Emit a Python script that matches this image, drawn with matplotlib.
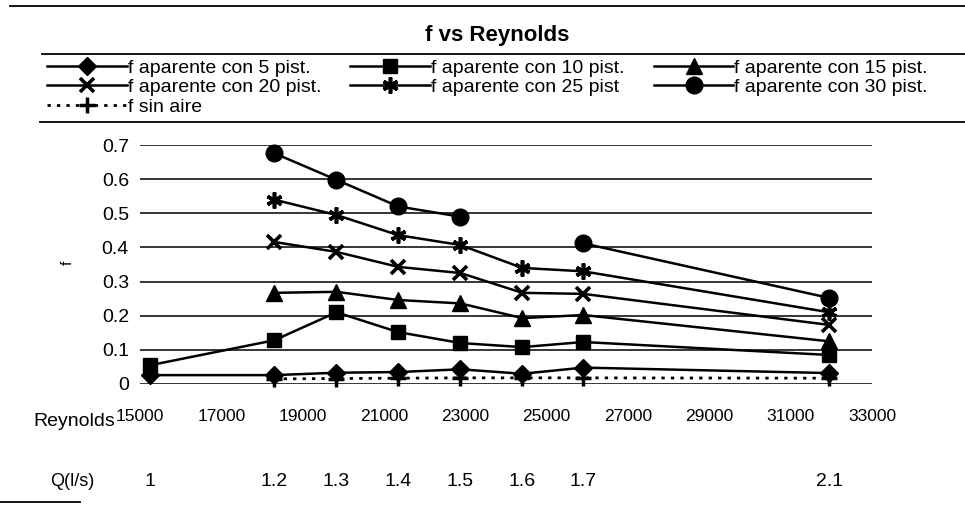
import numpy as np
import matplotlib as mpl
mpl.use('Agg')
import matplotlib.pyplot as plt
from matplotlib.lines import Line2D

plt.rcParams['font.family'] = ['Liberation Sans', 'DejaVu Sans']

# data
reynolds = [15250, 18300, 19830, 21350, 22880, 24400, 25900, 31950]
q_labels = ['1', '1.2', '1.3', '1.4', '1.5', '1.6', '1.7', '2.1']
nan = np.nan
f_5 = [0.026, 0.026, 0.033, 0.035, 0.043, 0.030, 0.048, 0.032]
f_10 = [0.055, 0.128, 0.210, 0.152, 0.120, 0.108, 0.123, 0.085]
f_15 = [nan, 0.267, 0.270, 0.246, 0.236, 0.193, 0.202, 0.125]
f_20 = [nan, 0.416, 0.387, 0.343, 0.325, 0.267, 0.264, 0.173]
f_25 = [nan, 0.540, 0.495, 0.436, 0.407, 0.340, 0.330, 0.210]
f_30 = [nan, 0.676, 0.598, 0.520, 0.490, nan, 0.412, 0.252]
f_sin = [nan, 0.015, 0.016, 0.017, 0.018, 0.018, 0.018, 0.017]
x_ticks = list(range(15000, 33001, 2000))
y_ticks = [0, 0.1, 0.2, 0.3, 0.4, 0.5, 0.6, 0.7]

W, H = 965, 527
fig = plt.figure(figsize=(W / 100, H / 100), dpi=100)
ax = fig.add_axes([140 / W, (H - 384) / H, 732 / W, 239 / H])

lw = 1.8
st = dict(color='black', lw=lw, clip_on=False)
h5, = ax.plot(reynolds, f_5, marker='D', ms=9, label='f aparente con 5 pist.', **st)
h10, = ax.plot(reynolds, f_10, marker='s', ms=10.5, label='f aparente con 10 pist.', **st)
h15, = ax.plot(reynolds, f_15, marker='^', ms=12, label='f aparente con 15 pist.', **st)
h20, = ax.plot(reynolds, f_20, marker='x', ms=10.5, mew=2.6, label='f aparente con 20 pist.', **st)
h25, = ax.plot(reynolds, f_25, marker=(6, 2, 0), ms=11.5, mew=2.6, label='f aparente con 25 pist', **st)
h30, = ax.plot(reynolds, f_30, marker='o', ms=12, label='f aparente con 30 pist.', **st)
hs, = ax.plot(reynolds, f_sin, marker='+', ms=11, mew=2.5, color='black', lw=2,
              ls=(0, (1.2, 2.2)), clip_on=False, label='f sin aire')

ax.set_xlim(15000, 33000)
ax.set_ylim(0, 0.7)
ax.set_xticks(x_ticks)
ax.set_xticklabels([str(v) for v in x_ticks])
ax.set_yticks(y_ticks)
ax.set_yticklabels(['0'] + [f'{v:.1f}' for v in y_ticks[1:]])
ax.tick_params(axis='both', length=0)
ax.tick_params(axis='x', pad=18, labelsize=12.5)
ax.tick_params(axis='y', pad=8, labelsize=14)
for s in ax.spines.values():
    s.set_visible(False)
ax.yaxis.grid(True, color='black', lw=1.1)
ax.set_axisbelow(True)

# Q row under the Reynolds labels
for re, q in zip(reynolds, q_labels):
    ax.text(re, -0.41, q, transform=ax.get_xaxis_transform(),
            ha='center', va='center', fontsize=14)

fig.text(115 / W, 1 - 421 / H, 'Reynolds', ha='right', va='center', fontsize=14)
fig.text(50 / W, 1 - 482 / H, 'Q(l/s)', ha='left', va='center', fontsize=13)
fig.text(68 / W, 1 - 263 / H, 'f', rotation=90, ha='center', va='center', fontsize=11)
fig.text(497 / W, 1 - 35 / H, 'f vs Reynolds', ha='center', va='center',
         fontsize=16, fontweight='bold')

handles = [h5, h20, hs, h10, h25, h15, h30]
fig.legend(handles=handles, labels=[h.get_label() for h in handles],
           loc='upper left', bbox_to_anchor=(47 / W, 1 - 59 / H), ncol=3,
           frameon=False, fontsize=14, handlelength=4.1, handletextpad=0.05,
           columnspacing=1.5, labelspacing=0.1, borderpad=0, borderaxespad=0)

# scanned frame remnants
for x0, x1, y in [(10, 965, 6), (42, 965, 54), (40, 965, 122), (0, 80, 502)]:
    fig.add_artist(Line2D([x0 / W, x1 / W], [1 - y / H, 1 - y / H],
                          transform=fig.transFigure, color='black', lw=1.3))

fig.savefig('out.png', dpi=100)
